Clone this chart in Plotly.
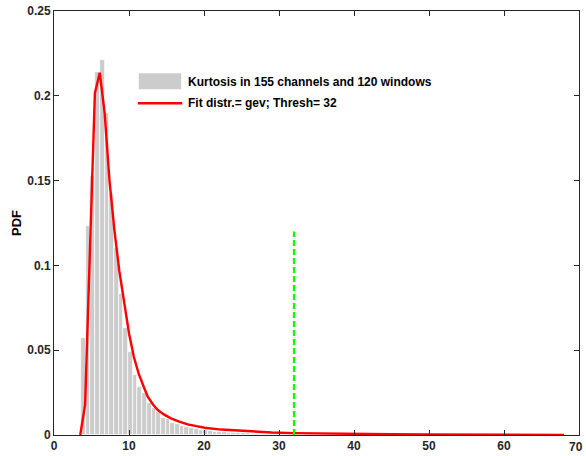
import plotly.graph_objects as go

# ---- data ----
bin_start = 3.6
bin_width = 0.627
hist_pdf = [0.057, 0.123, 0.153, 0.214, 0.221, 0.190, 0.142, 0.110, 0.083, 0.063,
            0.049, 0.0354, 0.0285, 0.0246, 0.0187, 0.0161, 0.0137, 0.0098, 0.0094, 0.0073,
            0.0063, 0.0053, 0.0045, 0.0040, 0.0035, 0.0030, 0.0027, 0.0023, 0.0020, 0.0018,
            0.0016, 0.0014, 0.0012, 0.0011, 0.0010, 0.0009, 0.0008, 0.0007, 0.0006, 0.0005,
            0.0005, 0.0004, 0.0004, 0.0003, 0.0003, 0.0003, 0.0002, 0.0002, 0.0002, 0.0002,
            0.0001, 0.0001, 0.0001, 0.0001, 0.0001]

fit_x = [3.5, 4.15, 4.8, 5.45, 6.1, 6.75, 7.4, 8.05, 8.7, 9.35, 10.0, 10.65, 11.3,
         12.0, 12.5, 13.2, 13.84, 14.7, 15.6, 16.7, 17.84, 19.0, 20.07, 22.3, 24.5,
         26.7, 29.0, 32.0, 36.0, 40.0, 45.0, 50.0, 55.0, 60.0, 64.0, 68.0]
fit_pdf = [0.0, 0.018, 0.11, 0.2015, 0.2136, 0.19, 0.15, 0.121, 0.097, 0.078, 0.060,
           0.046, 0.036, 0.028, 0.0226, 0.0180, 0.0147, 0.0120, 0.0098, 0.0079, 0.0063,
           0.0052, 0.0043, 0.0032, 0.0025, 0.0019, 0.0015, 0.0011, 0.0008, 0.0006,
           0.0004, 0.0003, 0.0002, 0.00015, 0.0001, 0.0001]

thresh = 32
thresh_height = 0.12

hist_name = "Kurtosis in 155 channels and 120 windows"
fit_name = "Fit distr.= gev; Thresh= 32"

x_ticks = [0, 10, 20, 30, 40, 50, 60, 70]
x_ticklabels = ["0", "10", "20", "30", "40", "50", "60", "70"]
y_ticks = [0, 0.05, 0.1, 0.15, 0.2, 0.25]

# ---- figure ----
centers = [bin_start + bin_width * (k + 0.5) for k in range(len(hist_pdf))]

GRAY = "#cccccc"
RED = "#ff0000"
GREEN = "#00ff00"

fig = go.Figure()
fig.add_trace(go.Bar(
    x=centers, y=hist_pdf, width=bin_width, name=hist_name, showlegend=False,
    marker=dict(color=GRAY, line=dict(color="#ffffff", width=0.7)),
))
fig.add_trace(go.Scatter(
    x=fit_x, y=fit_pdf, mode="lines", name=fit_name, showlegend=False,
    line=dict(color=RED, width=2.4),
))
fig.add_trace(go.Scatter(
    x=[thresh, thresh], y=[0, thresh_height], mode="lines", showlegend=False,
    line=dict(color=GREEN, width=2.2, dash="6px,3px"),
))

font_family = "Liberation Sans, Arial, sans-serif"
tick_font = dict(family=font_family, size=12, color="#262626", weight="bold")
axis_common = dict(
    showline=True, linecolor="#262626", linewidth=1, mirror="ticks",
    ticks="inside", ticklen=5, tickcolor="#262626", showgrid=False, zeroline=False,
    automargin=False, ticklabeloverflow="allow", tickfont=tick_font,
)

# last x tick label sits at the window edge; draw it as text kept inside the page
shown_x_labels = x_ticklabels[:-1] + [""]
fig.add_annotation(xref="paper", yref="paper", x=1.0, y=0, xshift=6, yshift=-3,
                   xanchor="right", yanchor="top", text=x_ticklabels[-1],
                   showarrow=False, font=tick_font)

# Legend drawn MATLAB-style (large patch + line sample), box off
legend_font = dict(family=font_family, size=12, color="#000000", weight="bold")
fig.add_shape(type="rect", xref="paper", yref="paper",
              x0=0.1615, x1=0.2423, y0=0.8153, y1=0.8531,
              fillcolor=GRAY, line=dict(width=0))
fig.add_shape(type="line", xref="paper", yref="paper",
              x0=0.1596, x1=0.2443, y0=0.7823, y1=0.7823,
              line=dict(color=RED, width=2.4))
fig.add_annotation(xref="paper", yref="paper", x=0.2518, y=0.8320,
                   xanchor="left", yanchor="middle", text=hist_name,
                   showarrow=False, font=legend_font)
fig.add_annotation(xref="paper", yref="paper", x=0.2518, y=0.7823,
                   xanchor="left", yanchor="middle", text=fit_name,
                   showarrow=False, font=legend_font)

fig.update_layout(
    width=586, height=456,
    margin=dict(l=54, r=7, t=11, b=21),
    paper_bgcolor="white", plot_bgcolor="white",
    bargap=0,
    showlegend=False,
    xaxis=dict(range=[0, 70], tickvals=x_ticks, ticktext=shown_x_labels, **axis_common),
    yaxis=dict(range=[0, 0.25], tickvals=y_ticks,
               title=dict(text="PDF", standoff=2,
                          font=dict(family=font_family, size=13, color="#000000", weight="bold")),
               **axis_common),
)

fig.write_html("out.html", config={"displayModeBar": False})

# remove the browser's default body margin so the 586x456 figure fits the window
with open("out.html", "r", encoding="utf-8") as f:
    html = f.read()
html = html.replace("<body>", '<body style="margin:0;padding:0;overflow:hidden;">', 1)
with open("out.html", "w", encoding="utf-8") as f:
    f.write(html)
